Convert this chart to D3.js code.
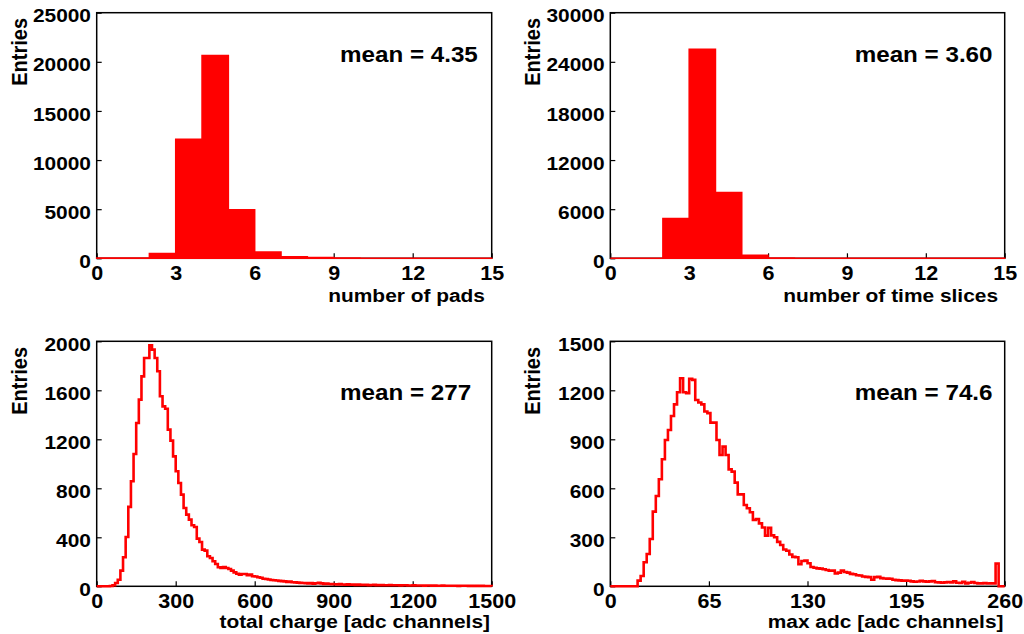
<!DOCTYPE html>
<html><head><meta charset="utf-8">
<script src="https://cdn.jsdelivr.net/npm/d3@7"></script>
<style>html,body{margin:0;padding:0;background:#fff}svg{display:block}</style>
</head><body>
<script>
// ---- data ----
const padsCounts = [20, 20, 480, 12110, 20640, 4930, 650, 170, 80, 20, 10, 5, 5, 3, 2];
const padsTicksX = [0, 3, 6, 9, 12, 15];
const padsTicksY = [0, 5000, 10000, 15000, 20000, 25000];

const sliceCounts = [0, 0, 4860, 25550, 8040, 370, 30, 10, 5, 3, 2, 2, 1, 1, 1];
const sliceTicksX = [0, 3, 6, 9, 12, 15];
const sliceTicksY = [0, 6000, 12000, 18000, 24000, 30000];

const chargeCounts = [0,0,0,0,1,3,8,27,54,128,237,403,648,857,1080,1333,1524,1714,1864,1864,
  1967,1932,1864,1755,1551,1469,1450,1279,1189,1061,939,843,748,639,585,544,498,484,389,362,
  299,291,245,231,204,182,155,150,158,150,141,128,114,103,95,101,101,90,95,82,
  80,74,70,62,60,56,52,50,47,44,42,40,36,38,33,32,30,28,27,26,
  24,27,22,25,28,24,20,22,19,18,17,16,18,15,14,16,13,14,12,15,
  12,11,13,10,11,12,10,9,11,9,8,10,9,8,9,7,8,9,7,6,
  8,7,6,7,5,6,7,5,6,5,4,6,5,4,5,4,5,3,4,5,
  4,3,4,3,4,3,4,3,2,3];
const chargeTicksX = [0, 300, 600, 900, 1200, 1500];
const chargeTicksY = [0, 400, 800, 1200, 1600, 2000];

const adcCounts = [0,0,0,0,0,0,0,0,0,35,63,147,198,290,457,553,655,778,896,957,
  1043,1114,1188,1274,1188,1182,1270,1264,1141,1125,1114,1070,1060,1002,1002,896,804,855,804,716,
  702,635,563,563,498,478,453,406,412,385,360,310,358,312,300,272,253,225,218,195,
  180,178,135,155,157,141,118,114,110,108,104,100,96,96,78,84,96,88,84,76,
  74,68,66,60,58,56,40,56,58,50,48,47,46,40,38,36,35,35,34,30,
  28,29,34,30,28,30,32,25,24,22,24,26,24,30,22,20,28,18,22,26,
  20,18,18,20,17,18,18,140,0,0];
const adcTicksX = [0, 65, 130, 195, 260];
const adcTicksY = [0, 300, 600, 900, 1200, 1500];

const titlesX = ["number of pads", "number of time slices", "total charge [adc channels]", "max adc [adc channels]"];
const meanLabels = ["mean = 4.35", "mean = 3.60", "mean = 277", "mean = 74.6"];

// ---- layout ----
const W = 1024, H = 634;
const FONT = "'Liberation Sans', Arial, Helvetica, sans-serif";
const SX = 1.1;

const panels = [
  {counts: padsCounts, lo: 0, hi: 15, ymax: 25000, tx: padsTicksX, ty: padsTicksY, fill: true,
   x0: 96.7, x1: 491.7, yt: 12.7, yb: 258.3, title: titlesX[0], titleX: 485, titleY: 301.7,
   mean: meanLabels[0], meanX: 340, meanY: 62, entX: 26.5, entY: 18},
  {counts: sliceCounts, lo: 0, hi: 15, ymax: 30000, tx: sliceTicksX, ty: sliceTicksY, fill: true,
   x0: 610.3, x1: 1004.7, yt: 12.7, yb: 258.3, title: titlesX[1], titleX: 998, titleY: 301.7,
   mean: meanLabels[1], meanX: 854.7, meanY: 62, entX: 540, entY: 18},
  {counts: chargeCounts, lo: 0, hi: 1500, ymax: 2000, tx: chargeTicksX, ty: chargeTicksY, fill: false,
   x0: 96.7, x1: 491.7, yt: 341.3, yb: 586.3, title: titlesX[2], titleX: 490, titleY: 628,
   mean: meanLabels[2], meanX: 340, meanY: 400, entX: 26.5, entY: 347},
  {counts: adcCounts, lo: 0, hi: 260, ymax: 1500, tx: adcTicksX, ty: adcTicksY, fill: false,
   x0: 610.3, x1: 1004.7, yt: 341.3, yb: 586.3, title: titlesX[3], titleX: 1003.5, titleY: 628,
   mean: meanLabels[3], meanX: 854.7, meanY: 400, entX: 540, entY: 347}
];

const svg = d3.select("body").append("svg").attr("width", W).attr("height", H)
  .style("font-family", FONT).style("font-weight", "bold");

function txt(g, x, y, s, size, anchor) {
  return g.append("text").attr("transform", `translate(${x},${y}) scale(${SX},1)`)
    .attr("text-anchor", anchor).attr("font-size", size).attr("fill", "#000").text(s);
}

panels.forEach(p => {
  const g = svg.append("g");
  const x = d3.scaleLinear().domain([p.lo, p.hi]).range([p.x0, p.x1]);
  const y = d3.scaleLinear().domain([0, p.ymax]).range([p.yb, p.yt]);
  const n = p.counts.length;
  const w = (p.hi - p.lo) / n;

  // frame
  g.append("rect").attr("x", p.x0).attr("y", p.yt).attr("width", p.x1 - p.x0).attr("height", p.yb - p.yt)
    .attr("fill", "none").attr("stroke", "#000").attr("stroke-width", 1.5);

  // axes (inward ticks)
  const ax = g.append("g").attr("transform", `translate(0,${p.yb})`)
    .call(d3.axisBottom(x).tickValues(p.tx).tickFormat(d3.format("d")).tickSizeInner(-5).tickSizeOuter(0).tickPadding(7.5));
  const ay = g.append("g").attr("transform", `translate(${p.x0},0)`)
    .call(d3.axisLeft(y).tickValues(p.ty).tickFormat(d3.format("d")).tickSizeInner(-5).tickSizeOuter(0).tickPadding(5.2));
  [ax, ay].forEach(a => {
    a.select(".domain").remove();
    a.selectAll(".tick line").attr("stroke", "#000").attr("stroke-width", 1.2);
    a.selectAll(".tick text").attr("font-family", FONT).attr("font-weight", "bold").attr("fill", "#000");
  });
  ax.selectAll(".tick text").attr("font-size", 20.5).attr("transform", "scale(1.05,1)");
  ay.selectAll(".tick text").attr("font-size", 19).attr("transform", `scale(${SX},1)`).attr("dy", "0.48em");

  // histogram
  const pts = [[p.lo, 0]];
  p.counts.forEach((c, i) => pts.push([p.lo + i * w, c]));
  pts.push([p.lo + n * w, p.counts[n - 1]]);
  pts.push([p.lo + n * w, 0]);
  if (p.fill) {
    const area = d3.area().curve(d3.curveStepAfter).x(d => x(d[0])).y0(y(0)).y1(d => y(d[1]));
    g.append("path").attr("d", area(pts)).attr("fill", "#ff0000").attr("stroke", "#ff0000").attr("stroke-width", 1.5);
  } else {
    const line = d3.line().curve(d3.curveStepAfter).x(d => x(d[0])).y(d => y(d[1]));
    g.append("path").attr("d", line(pts)).attr("fill", "none").attr("stroke", "#ff0000")
      .attr("stroke-width", 2.6).attr("stroke-linejoin", "miter");
  }

  // labels
  txt(g, p.titleX, p.titleY, p.title, 19, "end");
  txt(g, p.meanX, p.meanY, p.mean, 22, "start");
  g.append("text").attr("transform", `translate(${p.entX},${p.entY}) rotate(-90) scale(1,${SX})`)
    .attr("text-anchor", "end").attr("font-size", 20).attr("fill", "#000").text("Entries");
});
</script>
</body></html>
